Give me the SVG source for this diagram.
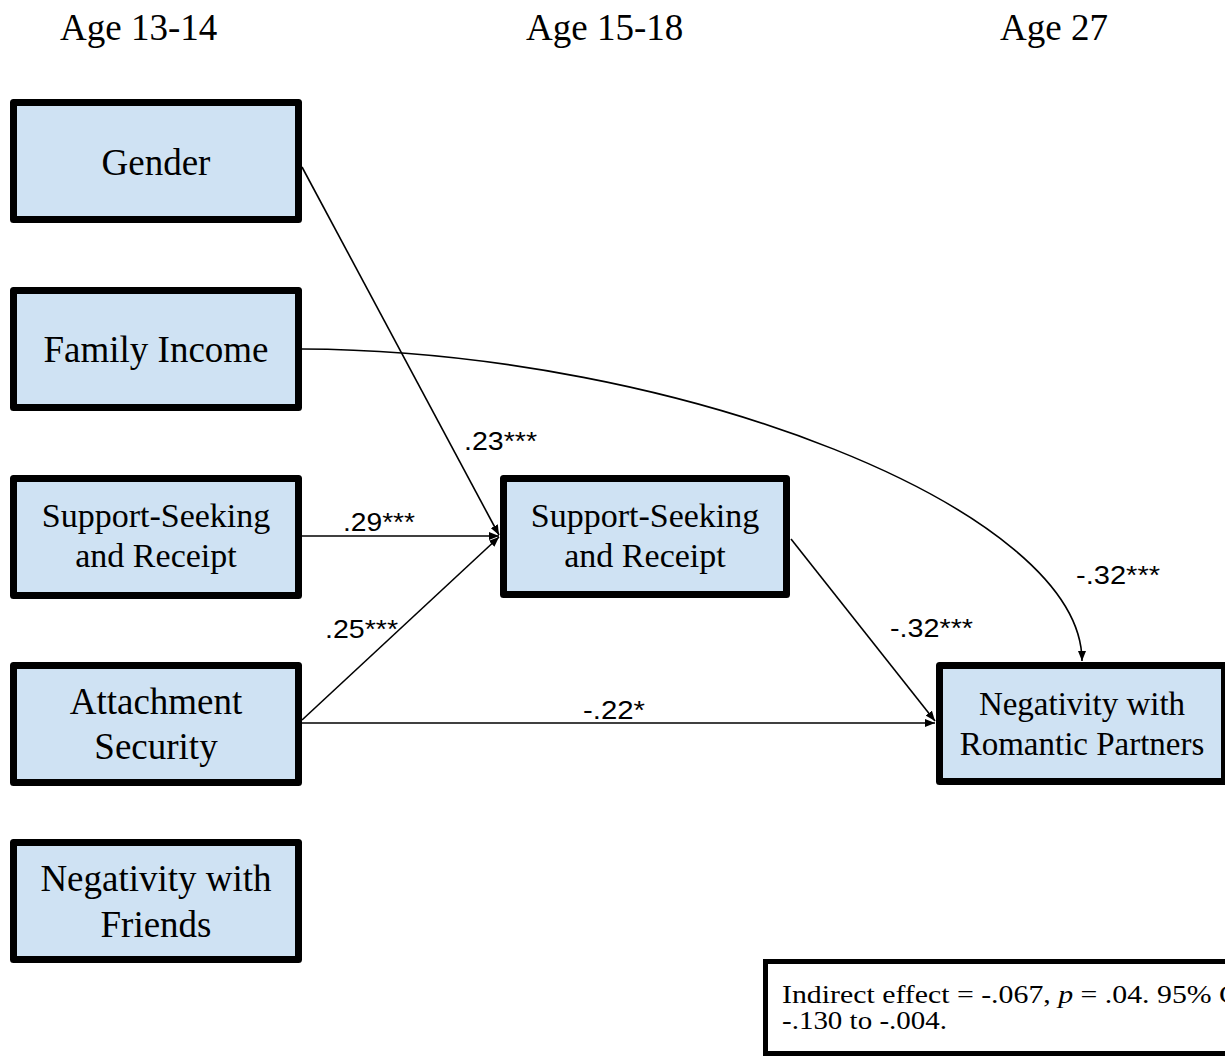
<svg xmlns="http://www.w3.org/2000/svg" width="1225" height="1057" viewBox="0 0 1225 1057">
<defs>
<style>
.box{fill:#cfe2f3;stroke:#000;stroke-width:7;stroke-linejoin:round}
.t{font-family:"Liberation Serif","Times New Roman",serif;fill:#000;text-anchor:middle}
.h{font-family:"Liberation Serif","Times New Roman",serif;font-size:37px;fill:#000}
.lbl{font-family:"Liberation Sans",Arial,sans-serif;font-size:26px;fill:#000}
.c{fill:none;stroke:#000;stroke-width:1.6}
.note{font-family:"Liberation Serif","Times New Roman",serif;font-size:25px;fill:#000}
</style>
<marker id="ah" viewBox="0 0 10 8" refX="10" refY="4" markerWidth="10" markerHeight="8" markerUnits="userSpaceOnUse" orient="auto">
<path d="M0,0 L10,4 L0,8 Z" fill="#000"/>
</marker>
</defs>
<rect width="1225" height="1057" fill="#fff"/>
<g id="headers">
<text class="h" x="60" y="40">Age 13-14</text>
<text class="h" x="526" y="40">Age 15-18</text>
<text class="h" x="1000" y="40">Age 27</text>
</g>
<g id="connectors">
<line class="c" x1="302" y1="167" x2="499" y2="535" marker-end="url(#ah)"/>
<line class="c" x1="302" y1="536" x2="499" y2="536" marker-end="url(#ah)"/>
<line class="c" x1="302" y1="720" x2="499" y2="537" marker-end="url(#ah)"/>
<line class="c" x1="302" y1="723" x2="935" y2="723" marker-end="url(#ah)"/>
<line class="c" x1="791" y1="539" x2="935" y2="721" marker-end="url(#ah)"/>
<path class="c" d="M302,349 C680,351 1082,510 1082,661" marker-end="url(#ah)"/>
</g>
<g id="labels">
<text class="lbl" x="464" y="450" textLength="73" lengthAdjust="spacingAndGlyphs">.23***</text>
<text class="lbl" x="343" y="531" textLength="72" lengthAdjust="spacingAndGlyphs">.29***</text>
<text class="lbl" x="325" y="638" textLength="73" lengthAdjust="spacingAndGlyphs">.25***</text>
<text class="lbl" x="583" y="719" textLength="62" lengthAdjust="spacingAndGlyphs">-.22*</text>
<text class="lbl" x="1076" y="584" textLength="84" lengthAdjust="spacingAndGlyphs">-.32***</text>
<text class="lbl" x="890" y="637" textLength="83" lengthAdjust="spacingAndGlyphs">-.32***</text>
</g>
<g id="gender">
<rect class="box" x="13.5" y="102.5" width="285" height="117"/>
<text class="t" x="156" y="175" font-size="37">Gender</text>
</g>
<g id="family-income">
<rect class="box" x="13.5" y="290.5" width="285" height="117"/>
<text class="t" x="156" y="362" font-size="37">Family Income</text>
</g>
<g id="support-1314">
<rect class="box" x="13.5" y="478.5" width="285" height="117"/>
<text class="t" x="156" y="527" font-size="34">Support-Seeking</text>
<text class="t" x="156" y="567" font-size="34">and Receipt</text>
</g>
<g id="attachment">
<rect class="box" x="13.5" y="665.5" width="285" height="117"/>
<text class="t" x="156" y="714" font-size="37">Attachment</text>
<text class="t" x="156" y="759" font-size="37">Security</text>
</g>
<g id="neg-friends">
<rect class="box" x="13.5" y="842.5" width="285" height="117"/>
<text class="t" x="156" y="891" font-size="37">Negativity with</text>
<text class="t" x="156" y="937" font-size="37">Friends</text>
</g>
<g id="support-1518">
<rect class="box" x="503.5" y="478.5" width="283" height="116"/>
<text class="t" x="645" y="527" font-size="34">Support-Seeking</text>
<text class="t" x="645" y="567" font-size="34">and Receipt</text>
</g>
<g id="neg-romantic">
<rect class="box" x="939.5" y="665.5" width="285" height="116"/>
<text class="t" x="1082" y="715" font-size="33">Negativity with</text>
<text class="t" x="1082" y="755" font-size="33">Romantic Partners</text>
</g>
<g id="indirect">
<rect x="765.5" y="961.5" width="480" height="92" fill="#fff" stroke="#000" stroke-width="5"/>
<text class="note" x="782" y="1003" textLength="457" lengthAdjust="spacingAndGlyphs">Indirect effect = -.067, <tspan font-style="italic">p</tspan> = .04. 95% C</text>
<text class="note" x="782" y="1029" textLength="165" lengthAdjust="spacingAndGlyphs">-.130 to -.004.</text>
</g>
</svg>
